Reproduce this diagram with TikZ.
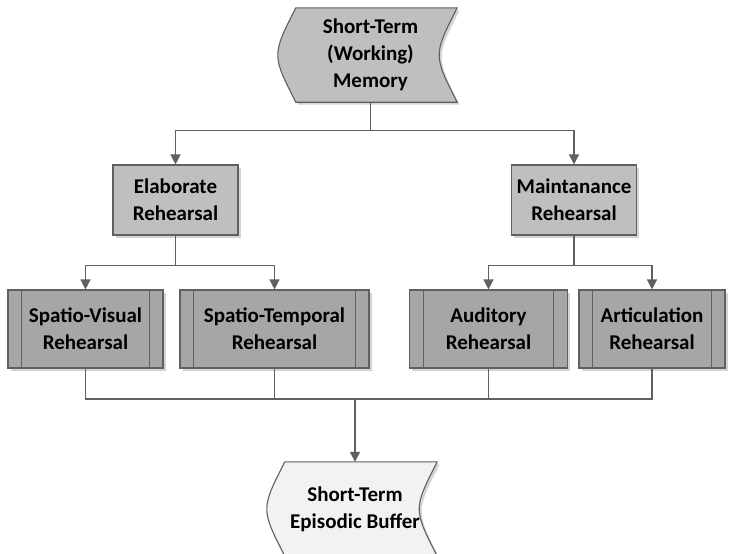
\documentclass[tikz,border=0pt]{standalone}
\usepackage{fontspec}
\setmainfont{Carlito}
\usetikzlibrary{calc,shadows,backgrounds,arrows.meta}

\definecolor{linegray}{HTML}{606060}
\definecolor{procfill}{HTML}{BFBFBF}
\definecolor{subfill}{HTML}{A6A6A6}
\definecolor{bufferfill}{HTML}{F2F2F2}
\definecolor{shadowgray}{HTML}{D4D4D4}

\tikzset{
  label text/.style={align=center, font=\fontsize{21}{27}\selectfont\bfseries, text=black, inner sep=0pt},
  softshadow/.style={drop shadow={shadow xshift=2.5pt, shadow yshift=-2.5pt, fill=shadowgray, opacity=1}},
  procbox/.style={label text, draw=linegray, line width=1.1pt, fill=procfill,
    minimum width=125pt, minimum height=70pt, softshadow},
  subbox/.style={label text, draw=linegray, line width=1.1pt, fill=subfill,
    minimum height=78pt, softshadow},
  datatext/.style={label text, minimum width=#1, minimum height=94pt},
  datashape/.style={draw=linegray, line width=1.1pt, softshadow},
  conn/.style={draw=linegray, line width=1.3pt},
  arr/.style={conn, -{Triangle[width=10pt,length=10pt]}},
}

\newcommand{\subbars}[1]{%
  \draw[draw=linegray, line width=1pt] ($(#1.north west)+(14.5,0)$) -- ($(#1.south west)+(14.5,0)$);
  \draw[draw=linegray, line width=1pt] ($(#1.north east)+(-14.5,0)$) -- ($(#1.south east)+(-14.5,0)$);}

\begin{document}
\begin{tikzpicture}[x=1pt, y=-1pt]
  \useasboundingbox (0,0) rectangle (729,554);

  % stored-data shape: working memory
  \node[datatext=173pt] (stm) at (370.5,55) {Short-Term\\(Working)\\Memory};
  \begin{scope}[on background layer]
    \draw[datashape, fill=procfill]
      ($(stm.north west)+(12,0)$) -- (stm.north east)
      .. controls ($(stm.east)+(-24,0)$) .. (stm.south east)
      -- ($(stm.south west)+(12,0)$)
      .. controls ($(stm.west)+(-12,0)$) .. cycle;
  \end{scope}

  % rehearsal types
  \node[procbox] (elab)  at (175.5,200) {Elaborate\\Rehearsal};
  \node[procbox] (maint) at (574,200)   {Maintanance\\Rehearsal};

  % rehearsal sub-processes
  \node[subbox, minimum width=155pt] (sv)  at (85.5,329)  {Spatio-Visual\\Rehearsal};
  \node[subbox, minimum width=189pt] (st)  at (274.5,329) {Spatio-Temporal\\Rehearsal};
  \node[subbox, minimum width=158pt] (aud) at (488.5,329) {Auditory\\Rehearsal};
  \node[subbox, minimum width=146pt] (art) at (652,329)   {Articulation\\Rehearsal};
  \subbars{sv}
  \subbars{st}
  \subbars{aud}
  \subbars{art}

  % stored-data shape: episodic buffer
  \node[datatext=164pt] (ep) at (355,509) {Short-Term\\Episodic Buffer};
  \begin{scope}[on background layer]
    \draw[datashape, fill=bufferfill]
      ($(ep.north west)+(12,0)$) -- (ep.north east)
      .. controls ($(ep.east)+(-24,0)$) .. (ep.south east)
      -- ($(ep.south west)+(12,0)$)
      .. controls ($(ep.west)+(-12,0)$) .. cycle;
  \end{scope}

  % connectors
  \coordinate (j1) at ($(stm.south)+(0,28)$);
  \draw[conn] (stm.south) -- (j1);
  \draw[arr] (j1) -| (elab);
  \draw[arr] (j1) -| (maint);

  \coordinate (j2) at ($(elab.south)+(0,30)$);
  \draw[conn] (elab.south) -- (j2);
  \draw[arr] (j2) -| (sv);
  \draw[arr] (j2) -| (st);

  \coordinate (j3) at ($(maint.south)+(0,30)$);
  \draw[conn] (maint.south) -- (j3);
  \draw[arr] (j3) -| (aud);
  \draw[arr] (j3) -| (art);

  \coordinate (bus) at (0,399);
  \draw[conn] (sv.south) |- (art.south |- bus) -- (art.south);
  \draw[conn] (st.south) -- (st.south |- bus);
  \draw[conn] (aud.south) -- (aud.south |- bus);
  \draw[arr] (ep.north |- bus) -- (ep.north);
\end{tikzpicture}
\end{document}
